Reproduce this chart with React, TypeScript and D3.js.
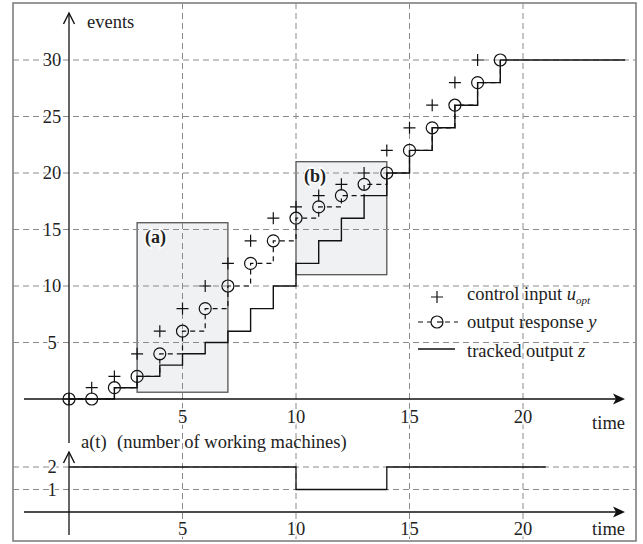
import React from 'react';
import * as d3 from 'd3';

// time instants
const timeSteps = [0, 1, 2, 3, 4, 5, 6, 7, 8, 9, 10, 11, 12, 13, 14, 15, 16, 17, 18, 19];
// control input u_opt (t = 0..18)
const controlInput = [0, 1, 2, 4, 6, 8, 10, 12, 14, 16, 17, 18, 19, 20, 22, 24, 26, 28, 30];
// output response y (t = 0..19)
const outputResponse = [0, 0, 1, 2, 4, 6, 8, 10, 12, 14, 16, 17, 18, 19, 20, 22, 24, 26, 28, 30];
// tracked output z (t = 0..19), held until trackedEnd
const trackedOutput = [0, 0, 1, 2, 3, 4, 5, 6, 8, 10, 12, 14, 16, 18, 20, 22, 24, 26, 28, 30];
const trackedEnd = 24.5;
// number of working machines a(t)
const machineTimes = [0, 10, 14, 21];
const machineValues = [2, 1, 2, 2];

const xTicks = [5, 10, 15, 20];
const yTicks = [5, 10, 15, 20, 25, 30];
const aTicks = [1, 2];

const boxLabels = ['(a)', '(b)'];
const boxT0 = [3, 10];
const boxT1 = [7, 14];
const boxV0 = [0.6, 11];
const boxV1 = [15.6, 21];

const FONT = "'Liberation Serif', 'DejaVu Serif', Tinos, 'Times New Roman', serif";

export default function App() {
  const W = 643, H = 544;
  const x = d3.scaleLinear().domain([0, 20]).range([69, 523]);
  const y = d3.scaleLinear().domain([0, 30]).range([399, 60]);
  const ya = d3.scaleLinear().domain([0, 2]).range([512, 467]);

  const frame = { l: 13, t: 3, r: 636, b: 541 };
  const axisColor = '#111';
  const gridColor = '#8a8a8a';

  const step = d3.line<[number, number]>().x(d => x(d[0])).y(d => y(d[1])).curve(d3.curveStepAfter);
  const stepA = d3.line<[number, number]>().x(d => x(d[0])).y(d => ya(d[1])).curve(d3.curveStepAfter);

  const yPts: [number, number][] = timeSteps.map((t, i) => [t, outputResponse[i]]);
  const zPts: [number, number][] = timeSteps.map((t, i) => [t, trackedOutput[i]] as [number, number]);
  zPts.push([trackedEnd, trackedOutput[trackedOutput.length - 1]]);
  const aPts: [number, number][] = machineTimes.map((t, i) => [t, machineValues[i]]);

  const x0 = x(0);
  const xArrowEnd = 625;
  const axisStart = 24;

  const plus = (cx: number, cy: number, k: string, s = 6) => (
    <path key={k} d={`M${cx - s},${cy}H${cx + s}M${cx},${cy - s}V${cy + s}`} stroke="#111" strokeWidth={1.2} fill="none" />
  );

  const rightArrow = (tx: number, ty: number) => (
    <path d={`M${tx},${ty} L${tx - 12},${ty - 5.5} L${tx - 9},${ty} L${tx - 12},${ty + 5.5} Z`} fill={axisColor} />
  );
  const upArrow = (tx: number, ty: number) => (
    <path d={`M${tx - 5.5},${ty + 11} L${tx},${ty} L${tx + 5.5},${ty + 11}`} fill="none" stroke={axisColor} strokeWidth={1.4} />
  );

  const halo = { stroke: 'white', strokeWidth: 3, paintOrder: 'stroke' as const };
  const fs = 18.5;

  return (
    <svg width={W} height={H} style={{ position: 'absolute', left: 0, top: 0, background: 'white', fontFamily: FONT }}>
      {/* frame */}
      <rect x={frame.l} y={frame.t} width={frame.r - frame.l} height={frame.b - frame.t} fill="white" stroke="#777" strokeWidth={1.5} />

      {/* highlight boxes */}
      {boxLabels.map((lab, i) => (
        <rect key={lab} x={x(boxT0[i])} y={y(boxV1[i])} width={x(boxT1[i]) - x(boxT0[i])} height={y(boxV0[i]) - y(boxV1[i])}
          fill="#f0f1f2" stroke="#555" strokeWidth={1.3} />
      ))}

      {/* grid */}
      <g stroke={gridColor} strokeWidth={1} strokeDasharray="6,4" fill="none">
        {xTicks.map(t => <line key={'gx' + t} x1={x(t)} x2={x(t)} y1={frame.t} y2={frame.b} />)}
        {yTicks.map(v => <line key={'gy' + v} x1={frame.l} x2={frame.r} y1={y(v)} y2={y(v)} />)}
        {aTicks.map(v => <line key={'ga' + v} x1={frame.l} x2={frame.r} y1={ya(v)} y2={ya(v)} />)}
      </g>

      {/* box labels */}
      {boxLabels.map((lab, i) => (
        <text key={'bl' + lab} x={x(boxT0[i]) + 8} y={y(boxV1[i]) + 20} fontSize={18} fontWeight="bold" fill="#222" style={halo}>{lab}</text>
      ))}

      {/* main axes */}
      <line x1={axisStart} x2={xArrowEnd - 4} y1={y(0)} y2={y(0)} stroke={axisColor} strokeWidth={1.3} />
      {rightArrow(xArrowEnd, y(0))}
      <line x1={x0} x2={x0} y1={443} y2={14} stroke={axisColor} strokeWidth={1.3} />
      {upArrow(x0, 13)}
      <text x={87} y={28} fontSize={fs} fill="#222">events</text>
      {yTicks.map(v => (
        <text key={'yt' + v} x={52} y={y(v)} dy="0.35em" textAnchor="middle" fontSize={fs} fill="#222" style={halo}>{v}</text>
      ))}
      {xTicks.map(t => (
        <text key={'xt' + t} x={x(t)} y={423} textAnchor="middle" fontSize={fs} fill="#222" style={halo}>{t}</text>
      ))}
      <text x={625} y={429} textAnchor="end" fontSize={fs} fill="#222" style={halo}>time</text>

      {/* lower panel axes */}
      <line x1={axisStart} x2={xArrowEnd - 4} y1={ya(0)} y2={ya(0)} stroke={axisColor} strokeWidth={1.3} />
      {rightArrow(xArrowEnd, ya(0))}
      <line x1={x0} x2={x0} y1={535} y2={453} stroke={axisColor} strokeWidth={1.3} />
      {upArrow(x0, 452)}
      <text y={448} fontSize={fs} fill="#222">
        <tspan x={81}>a(t)</tspan>
        <tspan x={117}>(number of working machines)</tspan>
      </text>
      {aTicks.map(v => (
        <text key={'at' + v} x={52} y={ya(v)} dy="0.35em" textAnchor="middle" fontSize={fs} fill="#222" style={halo}>{v}</text>
      ))}
      {xTicks.map(t => (
        <text key={'xt2' + t} x={x(t)} y={535} textAnchor="middle" fontSize={fs} fill="#222" style={halo}>{t}</text>
      ))}
      <text x={625} y={535} textAnchor="end" fontSize={fs} fill="#222" style={halo}>time</text>

      {/* a(t) */}
      <path d={stepA(aPts) || ''} fill="none" stroke="#111" strokeWidth={1.3} />

      {/* output response y (dashed staircase) */}
      <path d={step(yPts) || ''} fill="none" stroke="#111" strokeWidth={1.2} strokeDasharray="5,4" />
      {/* tracked output z */}
      <path d={step(zPts) || ''} fill="none" stroke="#111" strokeWidth={1.4} />
      {/* circles */}
      {timeSteps.map((t, i) => (
        <circle key={'c' + t} cx={x(t)} cy={y(outputResponse[i])} r={6} fill="none" stroke="#111" strokeWidth={1.2} />
      ))}
      {/* control input */}
      {controlInput.map((v, i) => plus(x(timeSteps[i]), y(v), 'p' + i))}

      {/* legend */}
      {plus(437, 297, 'legp')}
      <text x={467} y={300} fontSize={fs} fill="#222">control input <tspan fontStyle="italic">u</tspan><tspan fontStyle="italic" fontSize={11} dy={4}>opt</tspan></text>
      <line x1={418} x2={458} y1={322} y2={322} stroke="#111" strokeWidth={1.2} strokeDasharray="5,4" />
      <circle cx={437} cy={322} r={6} fill="white" stroke="#111" strokeWidth={1.2} />
      <line x1={437} x2={443} y1={322} y2={322} stroke="#111" strokeWidth={1.2} />
      <text x={467} y={328} fontSize={fs} fill="#222">output response <tspan fontStyle="italic">y</tspan></text>
      <line x1={418} x2={455} y1={349} y2={349} stroke="#111" strokeWidth={1.4} />
      <text x={467} y={357} fontSize={fs} fill="#222">tracked output <tspan fontStyle="italic">z</tspan></text>
    </svg>
  );
}
